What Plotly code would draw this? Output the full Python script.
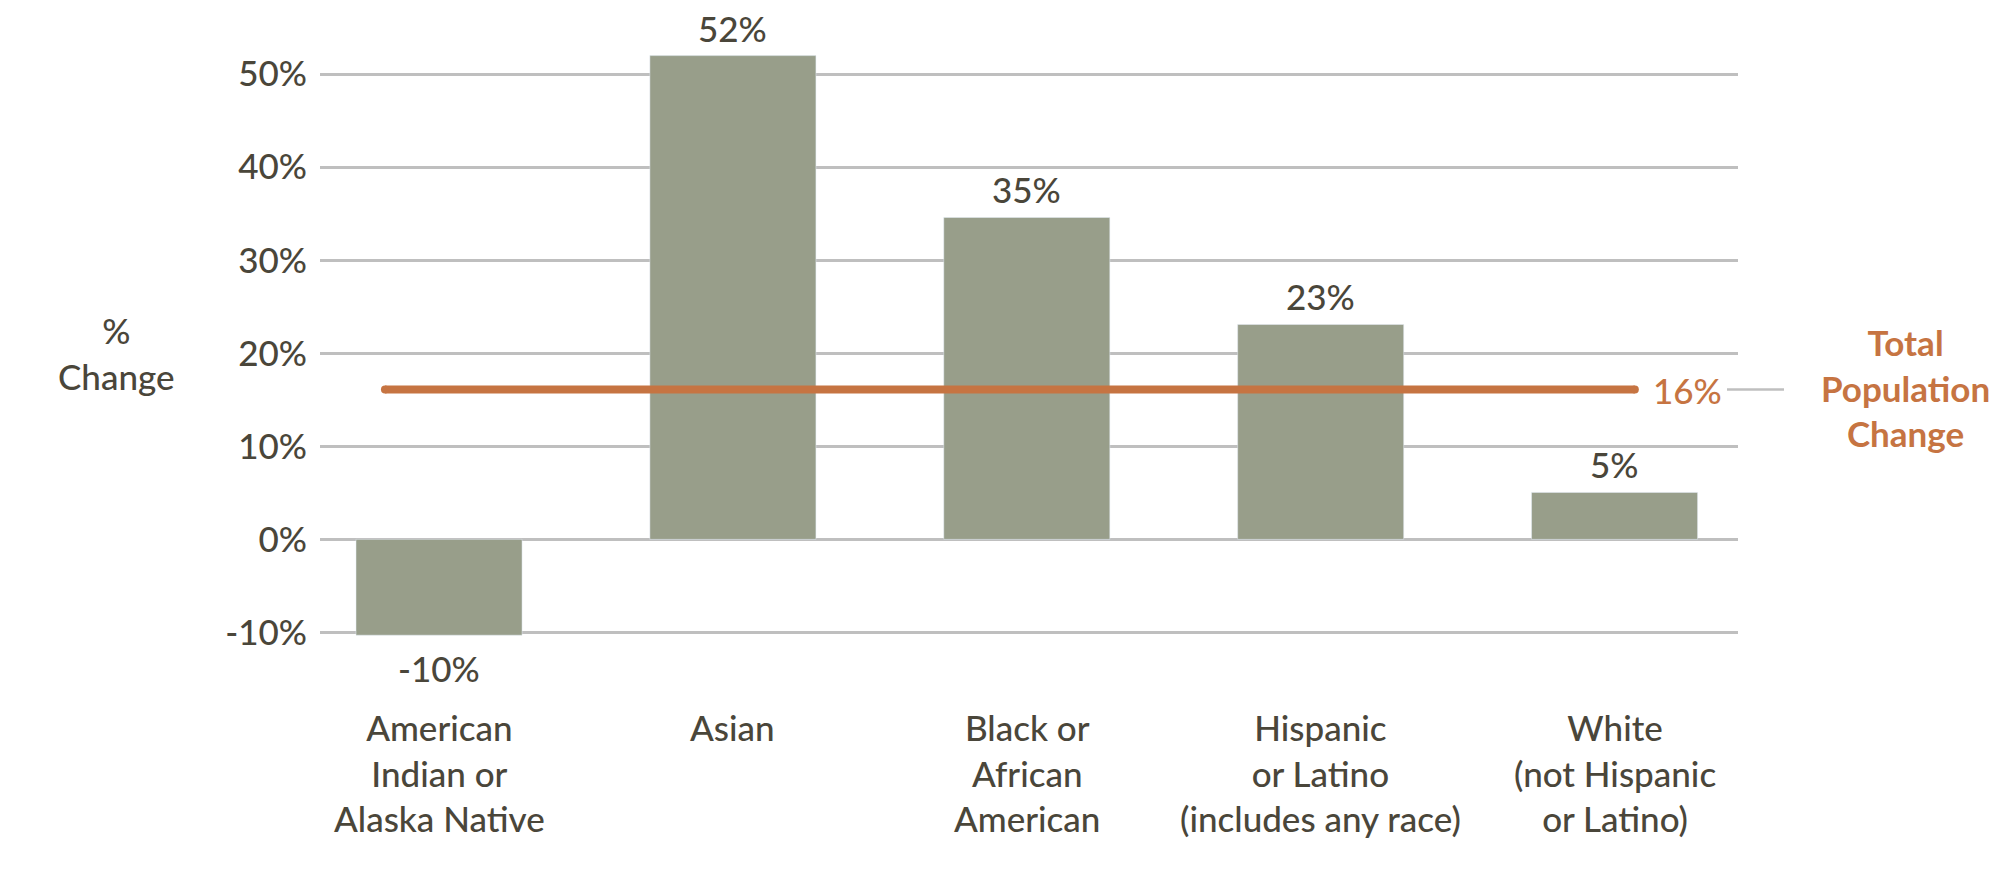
import plotly.graph_objects as go

# ---------------- data ----------------
categories = ["American Indian or Alaska Native", "Asian", "Black or African American",
              "Hispanic or Latino (includes any race)", "White (not Hispanic or Latino)"]
category_labels = [
    "American<br>Indian or<br>Alaska Native",
    "Asian",
    "Black or<br>African<br>American",
    "Hispanic<br>or Latino<br>(includes any race)",
    "White<br>(not Hispanic<br>or Latino)",
]
pct_change = [-10.3, 52.0, 34.6, 23.1, 5.05]
pct_labels = ["-10%", "52%", "35%", "23%", "5%"]
total_change = 16.1
total_label = "16%"
total_title = "Total<br>Population<br>Change"
y_title = "%<br>Change"
y_ticks = [-10, 0, 10, 20, 30, 40, 50]
y_ticktext = ["-10%", "0%", "10%", "20%", "30%", "40%", "50%"]

# ---------------- style ----------------
W, H = 2016, 874
OFF = 8  # page body margin
L, R, T, B = 312, 286, 29, 231
TEXT = "#4a463a"
BAR = "#989e8a"
ORANGE = "#c67442"
GRID = "#bfbfbf"
FONT = "Lato"
WT = 500

def px(xabs):
    return (xabs - OFF - L) / (W - L - R)

def py(yabs):
    return (H - B - (yabs - OFF)) / (H - T - B)

fig = go.Figure()
fig.add_trace(go.Bar(
    x=list(range(len(categories))), y=pct_change, marker_color=BAR,
    width=0.565, hoverinfo="skip", showlegend=False,
))

# total population change reference line
line_x = [-0.184, 4.069]
fig.add_trace(go.Scatter(
    x=line_x, y=[total_change] * 2, mode="lines+markers",
    line=dict(color=ORANGE, width=8), marker=dict(color=ORANGE, size=8),
    hoverinfo="skip", showlegend=False,
))

ann = []
# value labels
for i, (v, lab) in enumerate(zip(pct_change, pct_labels)):
    ann.append(dict(x=i, y=v, xref="x", yref="y", text=lab, showarrow=False,
                    yanchor="middle", yshift=(28 if v >= 0 else -33),
                    font=dict(family=FONT, size=35, color=TEXT, weight=WT)))
# category labels
for i, t in enumerate(category_labels):
    ann.append(dict(x=i, y=py(704), xref="x", yref="paper", text=t,
                    showarrow=False, yanchor="top", xanchor="center",
                    font=dict(family=FONT, size=35, color=TEXT, weight=WT)))
# axis title
ann.append(dict(x=px(116), y=py(353), xref="paper", yref="paper", text=y_title,
                showarrow=False, xanchor="center", yanchor="middle",
                font=dict(family=FONT, size=35, color=TEXT, weight=WT)))
# 16% label
ann.append(dict(x=px(1651), y=total_change, xref="paper", yref="y", text=total_label,
                showarrow=False, xanchor="left", yanchor="middle",
                font=dict(family=FONT, size=35, color=ORANGE, weight=WT)))
ann.append(dict(x=px(1905), y=py(387), xref="paper", yref="paper", text=total_title,
                showarrow=False, xanchor="center", yanchor="middle",
                font=dict(family=FONT, size=35, color=ORANGE, weight="bold")))

shapes = [dict(type="line", xref="paper", yref="y", x0=px(1727), x1=px(1784),
               y0=total_change, y1=total_change, line=dict(color=GRID, width=2.5))]

fig.update_layout(
    width=W, height=H, margin=dict(l=L, r=R, t=T, b=B, pad=0),
    paper_bgcolor="white", plot_bgcolor="white",
    annotations=ann, shapes=shapes,
    xaxis=dict(range=[-0.405, 4.42], showticklabels=False, showgrid=False,
               zeroline=False, showline=False, fixedrange=True),
    yaxis=dict(range=[-12, 54], tickmode="array", tickvals=y_ticks, ticktext=y_ticktext,
               showgrid=True, gridcolor=GRID, gridwidth=2.5,
               zeroline=True, zerolinecolor=GRID, zerolinewidth=2.5,
               showline=False, ticks="", ticklabelstandoff=12,
               tickfont=dict(family=FONT, size=35, color=TEXT, weight=WT)),
    font=dict(family=FONT, color=TEXT),
)
fig.write_html("out.html")
